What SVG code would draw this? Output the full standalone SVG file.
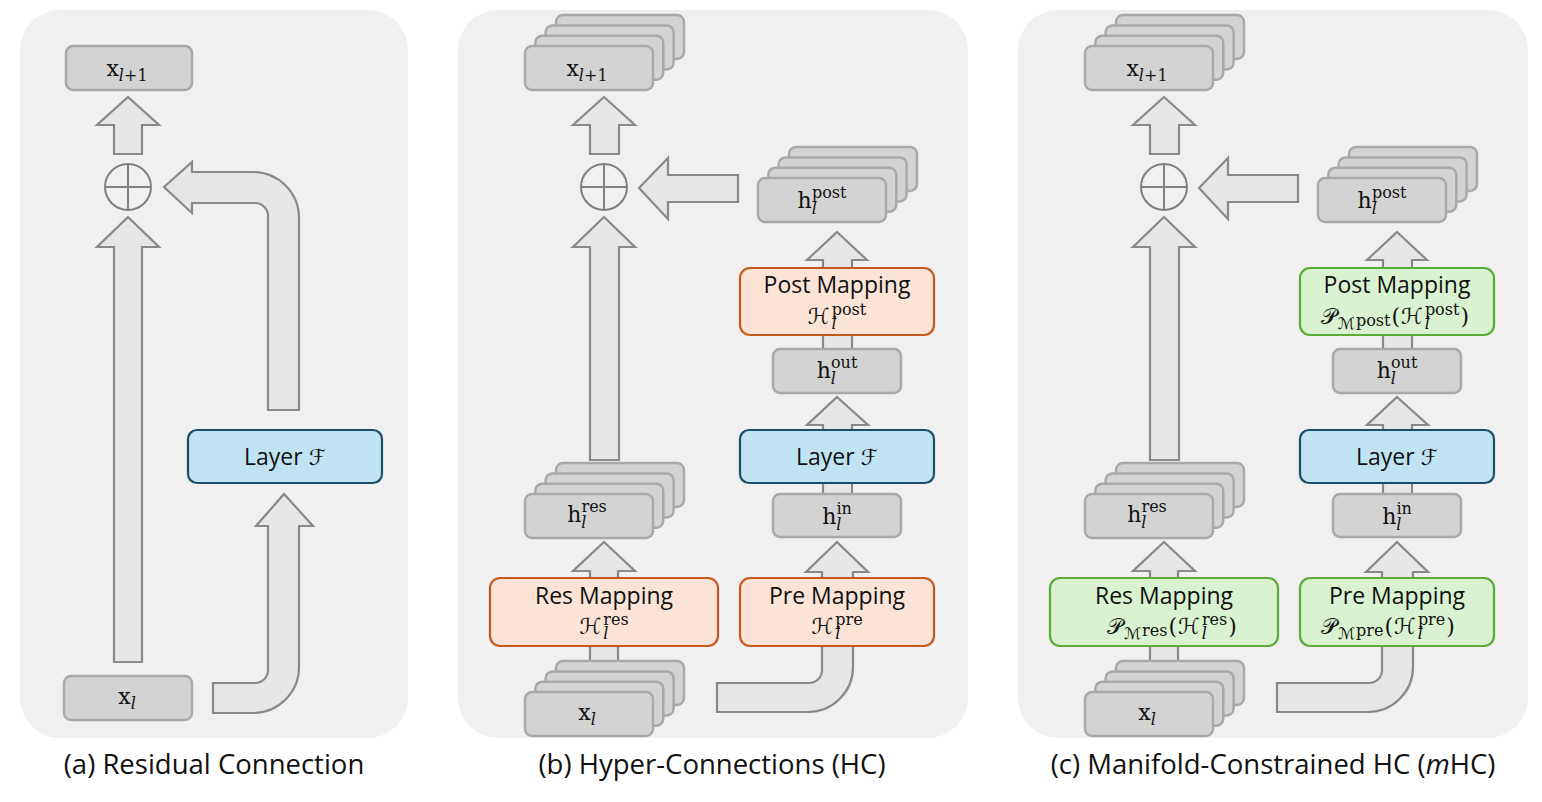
<svg xmlns="http://www.w3.org/2000/svg" width="1542" height="802" viewBox="0 0 1542 802">
<style>
.bg{fill:#f0f0f0}
.arr{fill:#e7e7e7;stroke:#898989;stroke-width:2.2}
.gb{fill:#d3d3d3;stroke:#a9a9a9;stroke-width:2.5}
.or{fill:#fbe3d6;stroke:#c55a1e;stroke-width:2.2}
.gr{fill:#d9f2cf;stroke:#5aab38;stroke-width:2.2}
.bl{fill:#c0e3f3;stroke:#1c4e68;stroke-width:2.2}
.plus{fill:none;stroke:#808080;stroke-width:2}
.m{font-family:"DejaVu Serif","DejaVu Sans","Noto Sans",serif;font-size:22px;fill:#111}
.s{font-size:16px}
.i{font-style:italic}
.t{font-family:"Open Sans","Noto Sans",sans-serif;font-size:23px;fill:#111}
.cap{font-family:"Open Sans","Noto Sans",sans-serif;font-size:27.5px;fill:#111}
</style>
<defs>
<g id="stack">
<rect class="gb" x="31" y="-31" width="128" height="44" rx="7"/>
<rect class="gb" x="20.6" y="-20.6" width="128" height="44" rx="7"/>
<rect class="gb" x="10.3" y="-10.3" width="128" height="44" rx="7"/>
<rect class="gb" x="0" y="0" width="128" height="44" rx="7"/>
</g>
</defs>

<!-- panel backgrounds -->
<rect class="bg" x="20" y="10" width="388" height="728" rx="40"/>
<rect class="bg" x="458" y="10" width="510" height="728" rx="40"/>
<rect class="bg" x="1018" y="10" width="510" height="728" rx="40"/>

<!-- connectors -->
<g id="connectors">
<!-- panel a -->
<path class="arr" d="M128,97 L159,125 L142,125 L142,154 L114,154 L114,125 L97,125 Z"/>
<path class="arr" d="M128,217 L159,247 L142,247 L142,662 L114,662 L114,247 L97,247 Z"/>
<path class="arr" d="M164,187 L192,162 L192,172 L253,172 A46,46 0 0 1 299,218 L299,410 L268,410 L268,216 A13,13 0 0 0 255,203 L192,203 L192,213 Z"/>
<path class="arr" d="M284,494 L313,526 L299,526 L299,667 A46,46 0 0 1 253,713 L213,713 L213,683 L255,683 A13,13 0 0 0 268,670 L268,526 L256,526 Z"/>
<!-- panel b -->
<path class="arr" d="M604,97 L635,125 L619,125 L619,154 L590,154 L590,125 L573,125 Z"/>
<path class="arr" d="M604,217 L635,247 L619,247 L619,460 L590,460 L590,247 L573,247 Z"/>
<path class="arr" d="M639,188 L668,158 L668,175 L738,175 L738,202 L668,202 L668,219 Z"/>
<path class="arr" d="M604,542 L635,571 L618,571 L618,664 L590,664 L590,571 L573,571 Z"/>
<path class="arr" d="M837,232 L867,260 L852,260 L852,352 L823,352 L823,260 L807,260 Z"/>
<path class="arr" d="M837,397 L868,425 L852,425 L852,496 L823,496 L823,425 L807,425 Z"/>
<path class="arr" d="M837,542 L868,572 L853,572 L853,667 A45,45 0 0 1 808,712 L717,712 L717,683 L809,683 A13,13 0 0 0 822,670 L822,572 L806,572 Z"/>
<!-- panel c -->
<path class="arr" d="M1164,97 L1195,125 L1179,125 L1179,154 L1150,154 L1150,125 L1133,125 Z"/>
<path class="arr" d="M1164,217 L1195,247 L1179,247 L1179,460 L1150,460 L1150,247 L1133,247 Z"/>
<path class="arr" d="M1199,188 L1228,158 L1228,175 L1298,175 L1298,202 L1228,202 L1228,219 Z"/>
<path class="arr" d="M1164,542 L1195,571 L1178,571 L1178,664 L1150,664 L1150,571 L1133,571 Z"/>
<path class="arr" d="M1397,232 L1427,260 L1412,260 L1412,352 L1383,352 L1383,260 L1367,260 Z"/>
<path class="arr" d="M1397,397 L1428,425 L1412,425 L1412,496 L1383,496 L1383,425 L1367,425 Z"/>
<path class="arr" d="M1397,542 L1428,572 L1413,572 L1413,667 A45,45 0 0 1 1368,712 L1277,712 L1277,683 L1369,683 A13,13 0 0 0 1382,670 L1382,572 L1366,572 Z"/>
</g>

<!-- panel a nodes -->
<g id="a-xl1">
<rect class="gb" x="66" y="46" width="126" height="44" rx="7"/>
<text class="m" x="127" y="76" text-anchor="middle">x<tspan class="s i" dy="5">l</tspan><tspan class="s">+1</tspan></text>
</g>
<g id="a-add">
<circle class="plus" cx="128" cy="187" r="23"/>
<path class="plus" d="M105,187 H151 M128,164 V210"/>
</g>
<g id="a-layer">
<rect class="bl" x="188" y="430" width="194" height="53" rx="9"/>
<text class="t" x="285" y="465" text-anchor="middle">Layer <tspan class="m i">ℱ</tspan></text>
</g>
<g id="a-xl">
<rect class="gb" x="64" y="676" width="128" height="44" rx="7"/>
<text class="m" x="127" y="704" text-anchor="middle">x<tspan class="s i" dy="5">l</tspan></text>
</g>

<!-- panel b nodes -->
<g id="b-xl1">
<use href="#stack" x="525" y="46"/>
<text class="m" x="587" y="76" text-anchor="middle">x<tspan class="s i" dy="5">l</tspan><tspan class="s">+1</tspan></text>
</g>
<g id="b-add">
<circle class="plus" cx="604" cy="187" r="23"/>
<path class="plus" d="M581,187 H627 M604,164 V210"/>
</g>
<g id="b-hres">
<use href="#stack" x="525" y="494"/>
<text class="m" x="587" y="522" text-anchor="middle">h<tspan class="s i" dy="6">l</tspan><tspan class="s" dx="-5" dy="-16">res</tspan></text>
</g>
<g id="b-resmap">
<rect class="or" x="490" y="578" width="228" height="68" rx="10"/>
<text class="t" x="604" y="604" text-anchor="middle">Res Mapping</text>
<text class="m" x="604" y="634" text-anchor="middle">ℋ<tspan class="s i" dx="2" dy="5">l</tspan><tspan class="s" dx="-5" dy="-14">res</tspan></text>
</g>
<g id="b-xl">
<use href="#stack" x="525" y="692"/>
<text class="m" x="587" y="720" text-anchor="middle">x<tspan class="s i" dy="5">l</tspan></text>
</g>
<g id="b-hpost">
<use href="#stack" x="758" y="178"/>
<text class="m" x="822" y="208" text-anchor="middle">h<tspan class="s i" dy="6">l</tspan><tspan class="s" dx="-5" dy="-16">post</tspan></text>
</g>
<g id="b-postmap">
<rect class="or" x="740" y="268" width="194" height="67" rx="10"/>
<text class="t" x="837" y="293" text-anchor="middle">Post Mapping</text>
<text class="m" x="837" y="324" text-anchor="middle">ℋ<tspan class="s i" dx="2" dy="5">l</tspan><tspan class="s" dx="-5" dy="-14">post</tspan></text>
</g>
<g id="b-hout">
<rect class="gb" x="773" y="349" width="128" height="44" rx="7"/>
<text class="m" x="837" y="378" text-anchor="middle">h<tspan class="s i" dy="6">l</tspan><tspan class="s" dx="-5" dy="-16">out</tspan></text>
</g>
<g id="b-layer">
<rect class="bl" x="740" y="430" width="194" height="53" rx="9"/>
<text class="t" x="837" y="465" text-anchor="middle">Layer <tspan class="m i">ℱ</tspan></text>
</g>
<g id="b-hin">
<rect class="gb" x="773" y="494" width="128" height="43" rx="7"/>
<text class="m" x="837" y="524" text-anchor="middle">h<tspan class="s i" dy="6">l</tspan><tspan class="s" dx="-5" dy="-16">in</tspan></text>
</g>
<g id="b-premap">
<rect class="or" x="740" y="578" width="194" height="68" rx="10"/>
<text class="t" x="837" y="604" text-anchor="middle">Pre Mapping</text>
<text class="m" x="837" y="634" text-anchor="middle">ℋ<tspan class="s i" dx="2" dy="5">l</tspan><tspan class="s" dx="-5" dy="-14">pre</tspan></text>
</g>

<!-- panel c nodes -->
<g id="c-xl1">
<use href="#stack" x="1085" y="46"/>
<text class="m" x="1147" y="76" text-anchor="middle">x<tspan class="s i" dy="5">l</tspan><tspan class="s">+1</tspan></text>
</g>
<g id="c-add">
<circle class="plus" cx="1164" cy="187" r="23"/>
<path class="plus" d="M1141,187 H1187 M1164,164 V210"/>
</g>
<g id="c-hres">
<use href="#stack" x="1085" y="494"/>
<text class="m" x="1147" y="522" text-anchor="middle">h<tspan class="s i" dy="6">l</tspan><tspan class="s" dx="-5" dy="-16">res</tspan></text>
</g>
<g id="c-resmap">
<rect class="gr" x="1050" y="578" width="228" height="68" rx="10"/>
<text class="t" x="1164" y="604" text-anchor="middle">Res Mapping</text>
<text class="m" x="1177" y="634" text-anchor="end">𝒫<tspan class="s" dx="1" dy="5">ℳ</tspan><tspan class="s" dx="1" dy="-3">res</tspan><tspan dx="1" dy="-2">(</tspan></text>
<text class="m" x="1178" y="634">ℋ<tspan class="s i" dx="2" dy="5">l</tspan><tspan class="s" dx="-5" dy="-14">res</tspan><tspan dx="1" dy="9">)</tspan></text>
</g>
<g id="c-xl">
<use href="#stack" x="1085" y="692"/>
<text class="m" x="1147" y="720" text-anchor="middle">x<tspan class="s i" dy="5">l</tspan></text>
</g>
<g id="c-hpost">
<use href="#stack" x="1318" y="178"/>
<text class="m" x="1382" y="208" text-anchor="middle">h<tspan class="s i" dy="6">l</tspan><tspan class="s" dx="-5" dy="-16">post</tspan></text>
</g>
<g id="c-postmap">
<rect class="gr" x="1300" y="268" width="194" height="67" rx="10"/>
<text class="t" x="1397" y="293" text-anchor="middle">Post Mapping</text>
<text class="m" x="1400" y="324" text-anchor="end">𝒫<tspan class="s" dx="1" dy="5">ℳ</tspan><tspan class="s" dx="1" dy="-3">post</tspan><tspan dx="1" dy="-2">(</tspan></text>
<text class="m" x="1401" y="324">ℋ<tspan class="s i" dx="2" dy="5">l</tspan><tspan class="s" dx="-5" dy="-14">post</tspan><tspan dx="1" dy="9">)</tspan></text>
</g>
<g id="c-hout">
<rect class="gb" x="1333" y="349" width="128" height="44" rx="7"/>
<text class="m" x="1397" y="378" text-anchor="middle">h<tspan class="s i" dy="6">l</tspan><tspan class="s" dx="-5" dy="-16">out</tspan></text>
</g>
<g id="c-layer">
<rect class="bl" x="1300" y="430" width="194" height="53" rx="9"/>
<text class="t" x="1397" y="465" text-anchor="middle">Layer <tspan class="m i">ℱ</tspan></text>
</g>
<g id="c-hin">
<rect class="gb" x="1333" y="494" width="128" height="43" rx="7"/>
<text class="m" x="1397" y="524" text-anchor="middle">h<tspan class="s i" dy="6">l</tspan><tspan class="s" dx="-5" dy="-16">in</tspan></text>
</g>
<g id="c-premap">
<rect class="gr" x="1300" y="578" width="194" height="68" rx="10"/>
<text class="t" x="1397" y="604" text-anchor="middle">Pre Mapping</text>
<text class="m" x="1393" y="634" text-anchor="end">𝒫<tspan class="s" dx="1" dy="5">ℳ</tspan><tspan class="s" dx="1" dy="-3">pre</tspan><tspan dx="1" dy="-2">(</tspan></text>
<text class="m" x="1394" y="634">ℋ<tspan class="s i" dx="2" dy="5">l</tspan><tspan class="s" dx="-5" dy="-14">pre</tspan><tspan dx="1" dy="9">)</tspan></text>
</g>

<!-- captions -->
<text class="cap" x="214" y="774" text-anchor="middle">(a) Residual Connection</text>
<text class="cap" x="712" y="774" text-anchor="middle">(b) Hyper-Connections (HC)</text>
<text class="cap" x="1273" y="774" text-anchor="middle">(c) Manifold-Constrained HC (<tspan font-style="italic">m</tspan>HC)</text>
</svg>
